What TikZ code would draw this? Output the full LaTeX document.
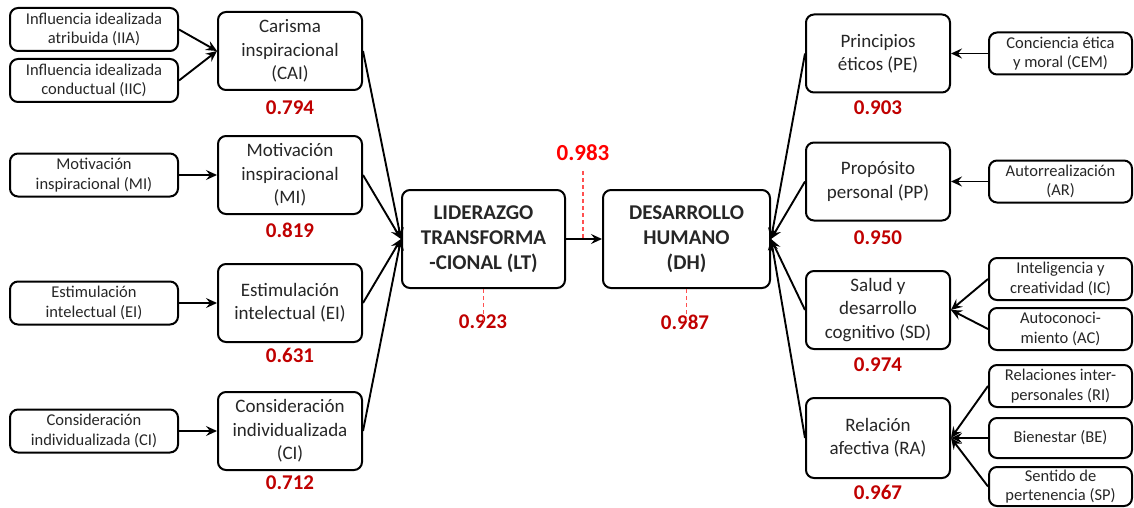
\documentclass[tikz,border=0pt]{standalone}
\usepackage{fontspec}
\setmainfont{Carlito}
\usetikzlibrary{arrows.meta,calc}
\definecolor{dred}{HTML}{C00000}
\definecolor{bred}{HTML}{FF0000}
\definecolor{lred}{HTML}{FF5050}
\definecolor{txt}{HTML}{262626}
\tikzset{
  box/.style={draw=black, line width=2pt, rounded corners=8pt, align=center, text=txt, inner sep=0pt},
  smallbox/.style={box, minimum width=168pt, minimum height=43pt, font=\fontsize{16.5}{19.5}\selectfont},
  rsmallbox/.style={box, minimum width=143pt, minimum height=42pt, font=\fontsize{16.5}{19.5}\selectfont},
  midbox/.style={box, minimum width=144pt, minimum height=78pt, font=\fontsize{19}{23.3}\selectfont},
  bigbox/.style={box, minimum height=98pt, font=\bfseries\fontsize{21}{25}\selectfont},
  val/.style={text=dred, font=\bfseries\fontsize{21}{24}\selectfont, inner sep=0pt},
  arr/.style={line width=1.9pt, -{Stealth[length=11pt,width=10pt,inset=4pt]}},
  redash/.style={draw=lred, line width=1.1pt, dash pattern=on 4pt off 3pt},
}
\begin{document}
\begin{tikzpicture}[x=1pt,y=-1pt]
\useasboundingbox (0,0) rectangle (1134,508);
% left small
\node[smallbox] (IIA) at (94,29.5) {Influencia idealizada\\atribuida (IIA)};
\node[smallbox] (IIC) at (94,80.5) {Influencia idealizada\\conductual (IIC)};
\node[smallbox] (sMI) at (94,175) {Motivación\\inspiracional (MI)};
\node[smallbox] (sEI) at (94,303) {Estimulación\\intelectual (EI)};
\node[smallbox] (sCI) at (94,431) {Consideración\\individualizada (CI)};
% left mid
\node[midbox] (CAI) at (290,51) {Carisma\\inspiracional\\(CAI)};
\node[midbox] (MI) at (290,175) {Motivación\\inspiracional\\(MI)};
\node[midbox] (EI) at (290,303) {Estimulación\\intelectual (EI)};
\node[midbox] (CI) at (290,431) {Consideración\\individualizada\\(CI)};
\node[val] (vCAI) at (290,108) {0.794};
\node[val] (vMI) at (290,230) {0.819};
\node[val] (vEI) at (290,355) {0.631};
\node[val] (vCI) at (290,483) {0.712};
% center
\node[bigbox, minimum width=163pt] (LT) at (483.5,239) {LIDERAZGO\\TRANSFORMA\\-CIONAL (LT)};
\node[bigbox, minimum width=167pt] (DH) at (686.5,239) {DESARROLLO\\HUMANO\\(DH)};
% right mid
\node[midbox] (PE) at (878,53.5) {Principios\\éticos (PE)};
\node[midbox] (PP) at (878,181.5) {Propósito\\personal (PP)};
\node[midbox] (SD) at (878,310) {Salud y\\desarrollo\\cognitivo (SD)};
\node[midbox, minimum height=80pt] (RA) at (878,438) {Relación\\afectiva (RA)};
\node[val] (vPE) at (878,108) {0.903};
\node[val] (vPP) at (878,238) {0.950};
\node[val] (vSD) at (878,365) {0.974};
\node[val] (vRA) at (878,492) {0.967};
% right small
\node[rsmallbox] (CEM) at (1060.5,53.5) {Conciencia ética\\y moral (CEM)};
\node[rsmallbox] (AR) at (1060.5,181.5) {Autorrealización\\(AR)};
\node[rsmallbox] (IC) at (1060.5,279) {Inteligencia y\\creatividad (IC)};
\node[rsmallbox] (AC) at (1060.5,329) {Autoconoci-\\miento (AC)};
\node[rsmallbox] (RI) at (1060.5,386) {Relaciones inter-\\personales (RI)};
\node[rsmallbox, minimum height=40pt] (BE) at (1060.5,438) {Bienestar (BE)};
\node[rsmallbox, minimum height=39pt] (SP) at (1060.5,486.5) {Sentido de\\pertenencia (SP)};
% arrows left
\draw[arr] (IIA.east) -- (CAI.west);
\draw[arr] (IIC.east) -- (CAI.west);
\draw[arr] (sMI.east) -- (MI.west);
\draw[arr] (sEI.east) -- (EI.west);
\draw[arr] (sCI.east) -- (CI.west);
\foreach \n in {CAI,MI,EI,CI} \draw[arr] (\n.east) -- (LT.west);
% center
\draw[arr] (LT.east) -- (DH.west);
% right
\foreach \n in {PE,PP,SD,RA} \draw[arr] (\n.west) -- (DH.east);
\draw[arr] (CEM.west) -- (PE.east);
\draw[arr] (AR.west) -- (PP.east);
\draw[arr] (IC.west) -- (SD.east);
\draw[arr] (AC.west) -- (SD.east);
\draw[arr] (RI.west) -- (RA.east);
\draw[arr] (BE.west) -- (RA.east);
\draw[arr] (SP.west) -- (RA.east);
% path coefficients
\coordinate (mid) at ($(LT.east)!0.5!(DH.west)$);
\node[val, text=bred, font=\bfseries\fontsize{23}{26}\selectfont] (vLD) at (583,153) {0.983};
\coordinate (dtop) at (583,171);
\draw[redash] (dtop) -- (dtop |- mid);
\node[val] (vLT) at (483,322) {0.923};
\node[val] (vDH) at (685,322) {0.987};
\draw[redash] (LT.south) -- ([yshift=-8pt]LT.south |- vLT.north);
\draw[redash] (DH.south) -- ([yshift=-8pt]DH.south |- vDH.north);
\end{tikzpicture}
\end{document}
